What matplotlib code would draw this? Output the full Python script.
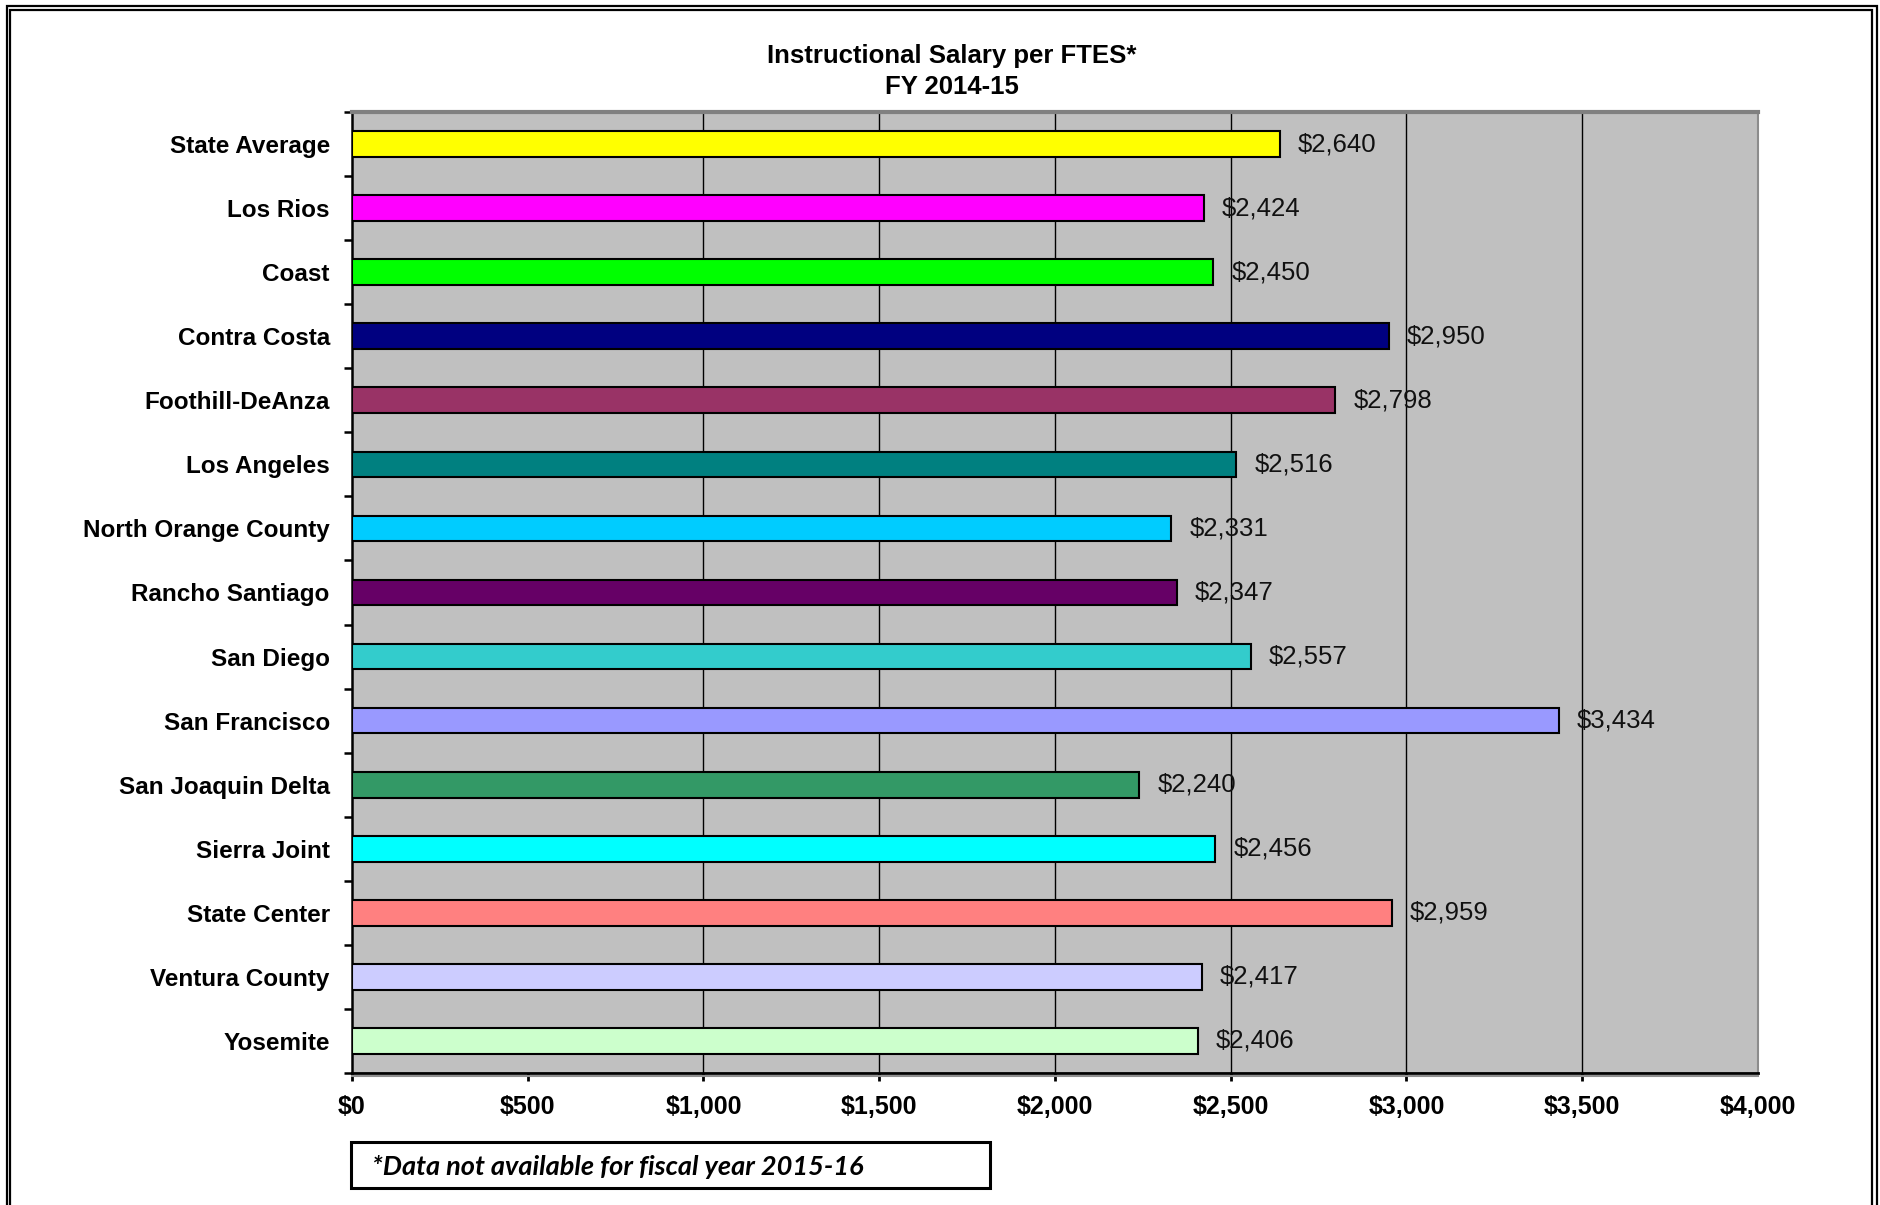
import matplotlib
matplotlib.use("Agg")
import matplotlib.pyplot as plt
from matplotlib.lines import Line2D
from matplotlib.patches import Rectangle
from matplotlib.ticker import FuncFormatter

# Instructional salary per FTES by district, FY 2014-15
districts = [
    "State Average", "Los Rios", "Coast", "Contra Costa", "Foothill-DeAnza",
    "Los Angeles", "North Orange County", "Rancho Santiago", "San Diego",
    "San Francisco", "San Joaquin Delta", "Sierra Joint", "State Center",
    "Ventura County", "Yosemite",
]
salary_per_ftes = [
    2640, 2424, 2450, 2950, 2798,
    2516, 2331, 2347, 2557,
    3434, 2240, 2456, 2959,
    2417, 2406,
]
bar_colors = [
    "#FFFF00", "#FF00FF", "#00FF00", "#000080", "#993366",
    "#008080", "#00CCFF", "#660066", "#33CCCC",
    "#9999FF", "#339966", "#00FFFF", "#FF8080",
    "#CCCCFF", "#CCFFCC",
]
x_ticks = [0, 500, 1000, 1500, 2000, 2500, 3000, 3500, 4000]
grid_values = [1000, 1500, 2000, 2500, 3000, 3500]

title_lines = ["Instructional Salary per FTES*", "FY 2014-15"]
footnote = "*Data not available for fiscal year 2015-16"

W, H = 1881, 1205
fig = plt.figure(figsize=(W / 100, H / 100), dpi=100)
fig.patch.set_facecolor("white")

# plot area in pixel terms
L, R, T, B = 352, 1758, 112, 1073
ax = fig.add_axes([L / W, 1 - B / H, (R - L) / W, (B - T) / H])
ax.set_facecolor("#C0C0C0")

ypos = list(range(len(districts)))
ax.barh(ypos, salary_per_ftes, height=0.40, color=bar_colors,
        edgecolor="black", linewidth=1.5, zorder=3)

ax.set_xlim(x_ticks[0], x_ticks[-1])
ax.set_ylim(len(districts) - 0.5, -0.5)

# vertical gridlines
for xv in grid_values:
    ax.axvline(xv, color="black", linewidth=1.0, zorder=1)

# value labels
for y, v in zip(ypos, salary_per_ftes):
    ax.annotate(f"${v:,}", xy=(v, y), xytext=(18, 0), textcoords="offset pixels",
                ha="left", va="center", fontsize=18.5,
                family="Liberation Sans", color="#111111", zorder=4)

# y axis: category labels between boundary ticks
ax.set_yticks(ypos)
ax.set_yticklabels(districts, fontsize=17.5, fontweight="bold",
                   family="Liberation Sans")
ax.tick_params(axis="y", which="major", length=0, pad=16)
ax.set_yticks([i - 0.5 for i in range(len(districts) + 1)], minor=True)
ax.tick_params(axis="y", which="minor", length=6, width=1.8, color="black",
               direction="out")

# x axis
ax.set_xticks(x_ticks)
ax.xaxis.set_major_formatter(FuncFormatter(lambda v, p: f"${int(v):,}"))
ax.tick_params(axis="x", length=6, width=2, direction="out", pad=10,
               labelsize=18)
for lbl in ax.get_xticklabels():
    lbl.set_fontweight("bold")
    lbl.set_family("Liberation Sans")
ax.xaxis.get_major_ticks()[-1].tick1line.set_visible(False)

# spines
ax.spines["left"].set_color("black")
ax.spines["left"].set_linewidth(1.8)
ax.spines["bottom"].set_color("black")
ax.spines["bottom"].set_linewidth(2.0)
ax.spines["top"].set_color("#808080")
ax.spines["top"].set_linewidth(3.0)
ax.spines["right"].set_color("#8C8C8C")
ax.spines["right"].set_linewidth(1.5)

# shadow under the x axis line
fig.add_artist(Line2D([L / W, R / W], [1 - (B + 3) / H] * 2,
                      color="#909090", linewidth=1.5))

# title
fig.text(952 / W, 1 - 56 / H, title_lines[0], ha="center", va="center",
         fontsize=18.5, fontweight="bold", family="Liberation Sans")
fig.text(952 / W, 1 - 87 / H, title_lines[1], ha="center", va="center",
         fontsize=18.5, fontweight="bold", family="Liberation Sans")

# footnote box
bx0, bx1, by0, by1 = 351, 990, 1142, 1188
fig.add_artist(Rectangle((bx0 / W, 1 - by1 / H), (bx1 - bx0) / W,
                         (by1 - by0) / H, transform=fig.transFigure,
                         facecolor="white", edgecolor="black", linewidth=2.2))
fig.text(372 / W, 1 - 1167 / H, footnote, ha="left", va="center",
         fontsize=19.5, fontweight="bold", style="italic", family="Lato")

# double frame around the chart
def frame(x0, x1, y0, lw):
    xs = [x0 / W, x0 / W, x1 / W, x1 / W]
    ys = [0, 1 - y0 / H, 1 - y0 / H, 0]
    fig.add_artist(Line2D(xs, ys, color="black", linewidth=lw,
                          solid_joinstyle="miter"))

frame(6.5, 1877.5, 6, 1.6)
frame(10, 1872, 9.5, 1.6)

fig.savefig("out.png", dpi=100)
